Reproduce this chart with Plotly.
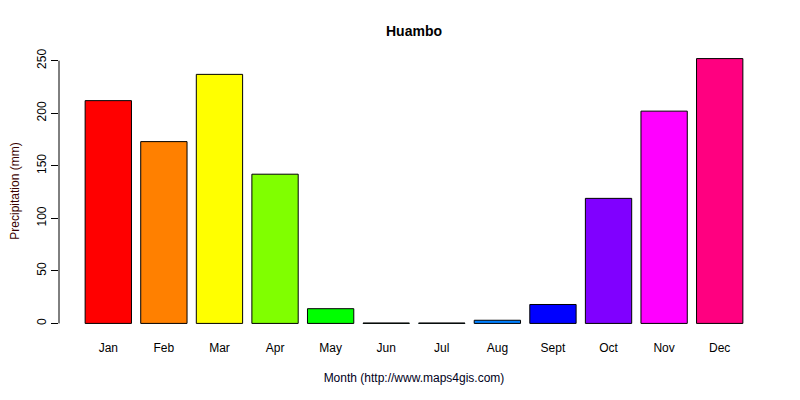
import plotly.graph_objects as go

months = ["Jan", "Feb", "Mar", "Apr", "May", "Jun", "Jul", "Aug", "Sept", "Oct", "Nov", "Dec"]
precip = [212, 173, 237, 142, 14, 0.4, 0.4, 3, 18, 119, 202, 252]
colors = ["#FF0000", "#FF8000", "#FFFF00", "#80FF00", "#00FF00", "#00FF80",
          "#00FFFF", "#0080FF", "#0000FF", "#8000FF", "#FF00FF", "#FF0080"]
y_ticks = [0, 50, 100, 150, 200, 250]

W, H = 792, 392  # browser body adds an 8px margin

fig = go.Figure(go.Bar(
    x=months, y=precip,
    marker=dict(color=colors, line=dict(color="black", width=1)),
))

fig.update_layout(
    width=W, height=H,
    margin=dict(l=51, r=31, t=40, b=66, autoexpand=False),
    plot_bgcolor="white", paper_bgcolor="white",
    bargap=0.2 / 1.2,
    showlegend=False,
    font=dict(family="Liberation Sans, Arial, sans-serif", size=12, color="black"),
    title=dict(text="<b>Huambo</b>", x=0.5, xanchor="center", xref="paper",
               y=1 - 23 / H, yref="container", yanchor="middle",
               font=dict(size=14, color="black"), automargin=False),
)

fig.update_xaxes(
    range=[-0.887, 11.887], showline=False, showgrid=False, zeroline=False,
    ticks="", ticklabelstandoff=5, automargin=False,
    title=dict(text="Month (http://www.maps4gis.com)", standoff=19, font=dict(size=12, color="#000020")),
)
fig.update_yaxes(
    range=[-10.08, 262.08], showline=False, showgrid=False, zeroline=False,
    tickvals=y_ticks, ticktext=[str(v) for v in y_ticks], automargin=False,
    ticks="outside", ticklen=7, tickcolor="black", tickwidth=1, tickangle=-90,
    ticklabelstandoff=0,
    title=dict(text="Precipitation (mm)", standoff=22, font=dict(size=12, color="#3a0000")),
)

fig.add_shape(type="line", xref="paper", yref="y", x0=0, x1=0, y0=0, y1=250,
              line=dict(color="black", width=1))

fig.write_html("out.html")
